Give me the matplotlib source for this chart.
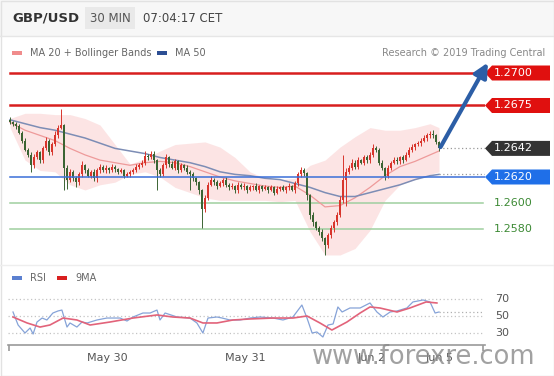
"""GBP/USD 30 min chart with Bollinger bands, key levels and RSI panel."""

import numpy as np
import matplotlib
matplotlib.use("Agg")
import matplotlib.pyplot as plt
from matplotlib.patches import Polygon, Rectangle

W, H = 554, 376

# ---- price data (30 min candles) ----
closes = [
    1.2662, 1.2661, 1.2659, 1.2654, 1.2648, 1.2641, 1.2637, 1.2629, 1.2635, 1.2639, 1.2633, 1.2642,
    1.2648, 1.2639, 1.2645, 1.2652, 1.2658, 1.2660, 1.2627, 1.2618, 1.2624, 1.2619, 1.2616, 1.2622,
    1.2629, 1.2625, 1.2621, 1.2624, 1.2619, 1.2625, 1.2628, 1.2625, 1.2627, 1.2625, 1.2628, 1.2626,
    1.2624, 1.2625, 1.2621, 1.2622, 1.2624, 1.2625, 1.2628, 1.2629, 1.2631, 1.2636, 1.2635, 1.2638,
    1.2633, 1.2625, 1.2622, 1.2629, 1.2635, 1.2630, 1.2627, 1.2632, 1.2625, 1.2629, 1.2627, 1.2624,
    1.2622, 1.2619, 1.2616, 1.2610, 1.2595, 1.2604, 1.2614, 1.2618, 1.2616, 1.2613, 1.2615, 1.2618,
    1.2614, 1.2612, 1.2613, 1.2610, 1.2614, 1.2612, 1.2613, 1.2610, 1.2612, 1.2613, 1.2610, 1.2613,
    1.2611, 1.2612, 1.2610, 1.2612, 1.2608, 1.2611, 1.2612, 1.2610, 1.2612, 1.2613, 1.2610, 1.2615,
    1.2622, 1.2625, 1.2623, 1.2606, 1.2591, 1.2585, 1.2581, 1.2578, 1.2573, 1.2568, 1.2575, 1.2581,
    1.2585, 1.2591, 1.2602, 1.2618, 1.2624, 1.2627, 1.2631, 1.2628, 1.2633, 1.2631, 1.2635, 1.2633,
    1.2637, 1.2642, 1.2641, 1.2631, 1.2627, 1.2621, 1.2627, 1.2631, 1.2633, 1.2632, 1.2635, 1.2633,
    1.2637, 1.2641, 1.2643, 1.2645, 1.2646, 1.2648, 1.2650, 1.2652, 1.2653, 1.2652, 1.2647, 1.2642,
]
first_open = 1.2664

# upper / lower wick lengths in pips
hi_wick = [
    2, 1, 1, 2, 1, 2, 1, 2, 3, 2, 1, 2,
    3, 1, 2, 3, 2, 12, 1, 2, 2, 1, 2, 2,
    3, 1, 2, 1, 2, 2, 2, 1, 2, 1, 2, 1,
    1, 2, 1, 2, 1, 2, 2, 2, 2, 4, 2, 2,
    2, 1, 2, 2, 3, 1, 2, 2, 1, 2, 1, 2,
    1, 2, 1, 1, 1, 2, 2, 3, 1, 2, 2, 1,
    2, 1, 2, 1, 2, 1, 2, 1, 2, 1, 2, 1,
    1, 2, 1, 2, 1, 2, 1, 2, 1, 2, 1, 2,
    2, 3, 2, 1, 1, 2, 1, 1, 2, 1, 2, 2,
    2, 2, 3, 19, 3, 2, 3, 2, 2, 1, 2, 2,
    2, 3, 2, 1, 2, 1, 2, 1, 2, 2, 1, 2,
    2, 2, 2, 1, 2, 2, 2, 2, 2, 3, 1, 1,
]
lo_wick = [
    1, 2, 2, 1, 2, 1, 2, 5, 2, 1, 2, 2,
    1, 2, 2, 1, 2, 1, 17, 7, 2, 2, 4, 2,
    2, 2, 1, 2, 2, 3, 2, 1, 2, 2, 1, 2,
    2, 1, 2, 1, 2, 2, 1, 2, 1, 2, 2, 1,
    2, 15, 2, 1, 2, 2, 1, 2, 2, 1, 2, 2,
    12, 2, 2, 3, 14, 2, 2, 1, 2, 2, 1, 2,
    2, 2, 1, 2, 2, 1, 2, 2, 1, 2, 1, 2,
    2, 1, 2, 1, 2, 1, 2, 1, 2, 2, 1, 2,
    2, 2, 2, 4, 3, 3, 2, 3, 2, 8, 3, 2,
    3, 2, 2, 2, 20, 2, 2, 2, 2, 1, 2, 2,
    2, 2, 2, 2, 2, 3, 2, 2, 1, 2, 2, 2,
    1, 2, 2, 2, 1, 2, 1, 2, 2, 2, 2, 2,
]

# indicator samples (candle index -> value)
ind_idx = [0, 5, 10, 15, 20, 25, 30, 35, 40, 45, 50, 55, 60, 65, 70, 75, 80, 85, 90, 95,
           100, 105, 110, 115, 120, 125, 130, 135, 140, 143]
bb_upper = [1.2665, 1.2669, 1.2669, 1.2668, 1.2668, 1.2665, 1.2660, 1.2645, 1.2630, 1.2634,
            1.2640, 1.2645, 1.2646, 1.2647, 1.2643, 1.2635, 1.2624, 1.2619, 1.2618, 1.2619,
            1.2629, 1.2633, 1.2643, 1.2651, 1.2658, 1.2656, 1.2656, 1.2658, 1.2661, 1.2658]
bb_lower = [1.2658, 1.2633, 1.2625, 1.2624, 1.2614, 1.2610, 1.2614, 1.2616, 1.2622, 1.2624,
            1.2620, 1.2612, 1.2608, 1.2604, 1.2602, 1.2602, 1.2602, 1.2602, 1.2601, 1.2602,
            1.2578, 1.2560, 1.2560, 1.2565, 1.2579, 1.2602, 1.2614, 1.2618, 1.2622, 1.2624]
ma20 = [1.2662, 1.2656, 1.2652, 1.2648, 1.2642, 1.2637, 1.2633, 1.2631, 1.2629, 1.2631,
        1.2632, 1.2631, 1.2628, 1.2624, 1.2620, 1.2617, 1.2615, 1.2613, 1.2612, 1.2613,
        1.2606, 1.2597, 1.2598, 1.2604, 1.2612, 1.2621, 1.2628, 1.2632, 1.2637, 1.2640]
ma50 = [1.2664, 1.2661, 1.2658, 1.2656, 1.2653, 1.2650, 1.2646, 1.2642, 1.2640, 1.2638,
        1.2635, 1.2633, 1.2631, 1.2628, 1.2624, 1.2622, 1.2621, 1.2619, 1.2618, 1.2615,
        1.2612, 1.2608, 1.2605, 1.2605, 1.2608, 1.2611, 1.2614, 1.2618, 1.2621, 1.2622]

rsi_idx = [1, 2.7, 5, 6.7, 7.7, 9, 10.7, 12.3, 14.3, 16, 17.3, 19, 20, 22.3, 24, 25.7, 29,
           32.3, 36.7, 39, 41, 44.3, 46.7, 49, 50, 51.7, 55.7, 60, 62.3, 64.3, 66, 69, 70.7,
           73.3, 76.7, 80, 83.3, 87.7, 91, 94.3, 97.3, 99, 100.7, 102.3, 104.3, 106, 107.7,
           109.3, 110.7, 113.3, 116.7, 120, 122.3, 124.3, 126.7, 129, 132.3, 134.3, 137.7,
           140, 141.7, 143]
rsi = [54.7, 39.4, 30.0, 35.9, 28.8, 42.9, 47.6, 45.3, 53.5, 55.9, 57.0, 37.0, 41.8, 37.0,
       42.9, 41.8, 45.3, 47.6, 47.6, 44.1, 48.8, 53.5, 53.5, 57.0, 45.3, 53.5, 48.8, 47.6,
       41.8, 30.0, 47.6, 48.8, 47.6, 45.3, 45.3, 47.6, 48.8, 47.6, 45.3, 48.8, 62.9, 47.6,
       30.0, 31.2, 25.3, 39.4, 40.6, 60.6, 54.7, 59.4, 59.4, 65.3, 54.7, 48.8, 54.7, 55.9,
       59.4, 66.5, 68.8, 66.5, 53.5, 54.7]
rsi_ma_idx = [1, 5.7, 10, 13.3, 17.7, 22.3, 26.7, 33.3, 41, 49, 54.3, 60, 64.3, 69, 74.3,
              80, 87.7, 94.3, 99, 103.3, 107.3, 112.3, 116.7, 120, 123.3, 129, 133.3,
              138.7, 142.3]
rsi_ma = [48.8, 41.8, 37.0, 39.4, 47.6, 45.3, 39.4, 42.9, 47.6, 51.2, 48.8, 47.6, 41.8,
          41.8, 45.3, 46.5, 47.6, 47.6, 50.0, 41.8, 33.5, 42.9, 53.5, 60.6, 59.4, 54.7,
          59.4, 66.5, 65.3]

date_idx = [32.3, 78.3, 120.7, 143.3]
date_labels = ["May 30", "May 31", "Jun 2", "Jun 5"]

target = 1.2700
red_levels = [1.2700, 1.2675]
blue_level = 1.2620
green_levels = [1.2600, 1.2580]
last_price = 1.2642
rsi_levels = [70, 50, 30]

UP = "#d8352c"
DOWN = "#3b6433"


def px_axes(fig, left, top, width, height):
    return fig.add_axes([left / W, 1 - (top + height) / H, width / W, height / H])


fig = plt.figure(figsize=(W / 100, H / 100), dpi=100)
fig.patch.set_facecolor("white")

# frame and header band
bg = fig.add_axes([0, 0, 1, 1])
bg.set_xlim(0, W)
bg.set_ylim(H, 0)
bg.axis("off")
bg.add_patch(Rectangle((0, 0), W, 36, facecolor="#f7f7f7", edgecolor="none"))
bg.add_patch(Rectangle((85, 7), 50, 22, facecolor="#e9e9e9", edgecolor="none"))
bg.plot([0, W], [36, 36], color="#e6e6e6", lw=1)
bg.plot([0, W], [265, 265], color="#eeeeee", lw=1)
bg.add_patch(Rectangle((0.5, 0.5), W - 1, H - 1, facecolor="none", edgecolor="#e2e2e2", lw=1))
bg.text(12, 18, "GBP/USD", fontsize=9.5, fontweight="bold", color="#333333", va="center")
bg.text(110, 18, "30 MIN", fontsize=8.5, color="#555555", va="center", ha="center")
bg.text(143, 18, "07:04:17 CET", fontsize=8.5, color="#444444", va="center")

# legends
bg.add_patch(Rectangle((12, 51), 10, 4, facecolor="#f08c8c", edgecolor="none"))
bg.text(30, 53, "MA 20 + Bollinger Bands", fontsize=7, color="#666666", va="center")
bg.add_patch(Rectangle((157, 51), 10, 4, facecolor="#2d4f94", edgecolor="none"))
bg.text(175, 53, "MA 50", fontsize=7, color="#666666", va="center")
bg.text(545, 53, "Research \u00a9 2019 Trading Central", fontsize=7, color="#888888",
        va="center", ha="right")
bg.add_patch(Rectangle((12, 276), 10, 4, facecolor="#5b80d0", edgecolor="none"))
bg.text(30, 278, "RSI", fontsize=7, color="#666666", va="center")
bg.add_patch(Rectangle((57, 276), 10, 4, facecolor="#d92020", edgecolor="none"))
bg.text(75, 278, "9MA", fontsize=7, color="#666666", va="center")

# ---- main price panel ----
ax = px_axes(fig, 8, 60, 477, 205)
ax.set_xlim(-2 / 3, (485 - 10) / 3)
ax.set_ylim(1.25523, 1.27100)
ax.axis("off")
ax.patch.set_alpha(0)

n = len(closes)
x = np.arange(n)
c = np.array(closes)
o = np.concatenate([[first_open], c[:-1]])
hi = np.maximum(o, c) + np.array(hi_wick) * 0.0001
lo = np.minimum(o, c) - np.array(lo_wick) * 0.0001

ax.fill_between(ind_idx, bb_lower, bb_upper, color="#fbdcdc", alpha=0.75, lw=0, zorder=1)
ax.plot(ind_idx, ma20, color="#ee9a9a", lw=0.9, zorder=2)
ax.plot(ind_idx, ma50, color="#7d8db5", lw=1.1, zorder=2)

colors = [UP if cc >= oo else DOWN for oo, cc in zip(o, c)]
ax.vlines(x, lo, hi, colors=colors, lw=0.7, zorder=3)
body = np.where(np.abs(c - o) < 0.00006, 0.00006, c - o)
ax.bar(x, body, bottom=o, width=0.8, color=colors, lw=0, zorder=3)

# key levels
for lv in red_levels:
    ax.axhline(lv, xmin=0.004, xmax=1.0, color="#d81e1e", lw=1.8, zorder=4)
ax.axhline(blue_level, xmin=0.004, xmax=1.0, color="#3a6fd8", lw=1.1, zorder=4)
for lv in green_levels:
    ax.axhline(lv, xmin=0.004, xmax=0.996, color="#9fcf9f", lw=1.1, zorder=1)

# dotted guide lines from the last bar to the labels
ax.plot([n - 1, ax.get_xlim()[1]], [last_price, last_price], color="#999999",
        lw=0.9, ls=(0, (1, 2)), zorder=4)
ax.plot([n - 1, ax.get_xlim()[1]], [ma50[-1], ma50[-1]], color="#999999",
        lw=0.9, ls=(0, (1, 2)), zorder=4)

# right-hand labels
tr = ax.get_yaxis_transform()
py = (ax.get_ylim()[1] - ax.get_ylim()[0]) / 205  # price per pixel
half = 7.5 * py
x_tip = 1.0
x_body = 1.0 + 7 / 477
x_end = 1.0 + 65 / 477
x_txt = 1.0 + 9 / 477


def tag(y, face, text):
    pts = [(x_tip, y), (x_body, y + half), (x_end, y + half), (x_end, y - half), (x_body, y - half)]
    ax.add_patch(Polygon(pts, closed=True, transform=tr, facecolor=face, edgecolor="none",
                         clip_on=False, zorder=5))
    ax.text(x_txt, y, text, transform=tr, color="white", fontsize=8, va="center",
            ha="left", clip_on=False, zorder=6)


for lv in red_levels:
    tag(lv, "#e0100f", f"{lv:.4f}")
tag(last_price, "#333333", f"{last_price:.4f}")
tag(blue_level, "#1f6fe8", f"{blue_level:.4f}")
for lv in green_levels:
    ax.text(x_txt, lv, f"{lv:.4f}", transform=tr, color="#3d8a35", fontsize=8,
            va="center", ha="left", clip_on=False)

# projection arrow
ax.annotate("", xy=(n + 15.3, target + 0.0008), xytext=(n - 0.5, c[-1] + 0.0001),
            arrowprops=dict(arrowstyle="-|>,head_width=0.35,head_length=0.7", lw=3,
                            color="#2c5ea6", shrinkA=0, shrinkB=0, mutation_scale=12),
            annotation_clip=False, zorder=6)

# ---- RSI panel ----
rx = px_axes(fig, 8, 288, 477, 57)
rx.set_xlim(ax.get_xlim())
rx.set_ylim(15.9, 82.9)
rx.patch.set_alpha(0)
for s in ["top", "right", "left"]:
    rx.spines[s].set_visible(False)
rx.spines["bottom"].set_color("#9a9a9a")
rx.spines["bottom"].set_linewidth(1.2)
rx.set_yticks([])
rx.set_xticks(date_idx)
rx.set_xticklabels(date_labels)
rx.tick_params(axis="x", length=0, pad=6, labelsize=8, labelcolor="#555555")
rx.set_xticks([ax.get_xlim()[0] + 0.2, (483 - 10) / 3], minor=True)
rx.tick_params(axis="x", which="minor", length=4, width=1.2, color="#9a9a9a")

for lv in rsi_levels:
    rx.plot([ax.get_xlim()[0], (483 - 10) / 3], [lv, lv], color="#c4c4c4", lw=0.9,
            ls=(0, (1, 2)))
    rx.text(1.0 + 10 / 477, lv, str(lv), transform=rx.get_yaxis_transform(), fontsize=8,
            color="#555555", va="center", ha="left")
rx.plot([n - 1, (483 - 10) / 3], [rsi[-1], rsi[-1]], color="#b0b0b0", lw=0.9, ls=(0, (1, 2)))
rx.plot(rsi_idx, rsi, color="#86a3d8", lw=0.9)
rx.plot(rsi_ma_idx, rsi_ma, color="#e2637a", lw=1.2)

# watermark
fig.text(0.765, 0.05, "www.forexre.com", fontsize=18.5, color="#8a8a8a", alpha=0.8,
         ha="center", va="center")

plt.savefig("out.png", dpi=100, facecolor="white")
plt.close()
